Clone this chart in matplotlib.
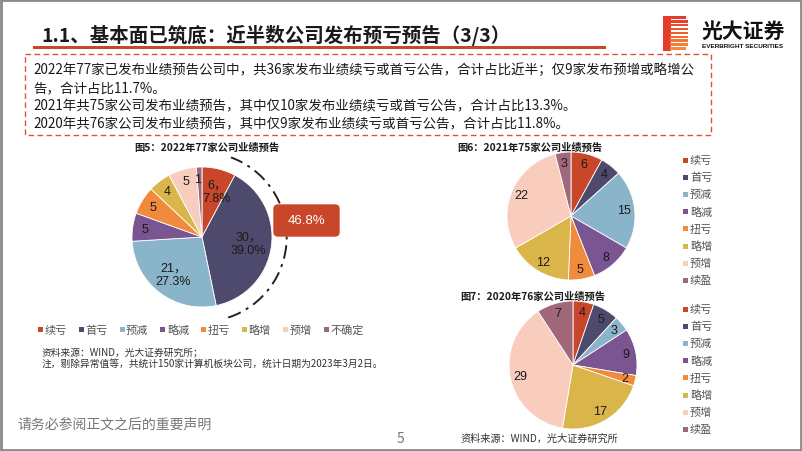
import numpy as np
import matplotlib
matplotlib.use("Agg")
import matplotlib.pyplot as plt
from matplotlib.patches import Rectangle, FancyBboxPatch, Arc

plt.rcParams['font.family'] = ['Noto Sans CJK SC', 'DejaVu Sans']

W, H = 802, 452

# ---------------- data ----------------
cats_2022 = ["续亏", "首亏", "预减", "略减", "扭亏", "略增", "预增", "不确定"]
vals_2022 = [6, 30, 21, 5, 5, 4, 5, 1]
cats_2021 = ["续亏", "首亏", "预减", "略减", "扭亏", "略增", "预增", "续盈"]
vals_2021 = [6, 4, 15, 8, 5, 12, 22, 3]
cats_2020 = ["续亏", "首亏", "预减", "略减", "扭亏", "略增", "预增", "续盈"]
vals_2020 = [4, 5, 3, 9, 2, 17, 29, 7]

colors = ["#C8462A", "#4E4A6E", "#8AB4C9", "#7A5591",
          "#F08A3C", "#D9B54A", "#F8CDBE", "#A0687A"]

title = "1.1、基本面已筑底：近半数公司发布预亏预告（3/3）"
summary_lines = [
    "2022年77家已发布业绩预告公司中，共36家发布业绩续亏或首亏公告，合计占比近半；仅9家发布预增或略增公",
    "告，合计占比11.7%。",
    "2021年共75家公司发布业绩预告，其中仅10家发布业绩续亏或首亏公告，合计占比13.3%。",
    "2020年共76家公司发布业绩预告，其中仅9家发布业绩续亏或首亏公告，合计占比11.8%。",
]
fig5_title = "图5：2022年77家公司业绩预告"
fig6_title = "图6：2021年75家公司业绩预告"
fig7_title = "图7：2020年76家公司业绩预告"
source1 = "资料来源：WIND，光大证券研究所；"
note1 = "注，剔除异常值等，共统计150家计算机板块公司，统计日期为2023年3月2日。"
source3 = "资料来源：WIND，光大证券研究所"
footer = "请务必参阅正文之后的重要声明"
page_no = "5"

fig = plt.figure(figsize=(W / 100, H / 100), dpi=100)
fig.patch.set_facecolor("white")

num_font = ['Liberation Sans', 'Noto Sans CJK SC']


def pie_axes(cx, cy, r, ext):
    side = 2 * r * ext
    ax = fig.add_axes([(cx - r * ext) / W, 1 - (cy + r * ext) / H, side / W, side / H])
    return ax


def draw_pie(ax, vals, ext, labels, dists, fs, r_px, nudges=None):
    nudges = nudges or {}
    wedges, _ = ax.pie(vals, colors=colors, startangle=90, counterclock=False,
                       radius=1, wedgeprops=dict(edgecolor="white", linewidth=0.6))
    ax.set_xlim(-ext, ext)
    ax.set_ylim(-ext, ext)
    ax.set_aspect("equal")
    ax.axis("off")
    for i, (w, lab, d) in enumerate(zip(wedges, labels, dists)):
        a = np.deg2rad((w.theta1 + w.theta2) / 2)
        dx, dy = nudges.get(i, (0, 0))
        ax.text(d * np.cos(a) + dx / r_px, d * np.sin(a) + dy / r_px, lab,
                ha="center", va="center", fontsize=fs, color="#1a1a1a",
                family=num_font, linespacing=1.15)
    return wedges


# ---------------- pie 1 (2022) ----------------
ext1 = 1.35
ax1 = pie_axes(202, 238, 70, ext1)
tot1 = sum(vals_2022)
labs1 = []
d1 = []
for i, v in enumerate(vals_2022):
    if i < 3:
        labs1.append(f"{v}，\n{v / tot1 * 100:.1f}%")
        d1.append(0.67)
    else:
        labs1.append(f"{v}")
        d1.append(0.83)
draw_pie(ax1, vals_2022, ext1, labs1, d1, 9, 70, nudges={0: (3.5, 0), 7: (-2.5, 0)})
arc = Arc((0, 0), 2 * 1.21, 2 * 1.21, theta1=-72, theta2=70, color="#222222",
          lw=1.4, ls=(0, (7, 3, 1.5, 3)))
ax1.add_patch(arc)

# ---------------- pie 2 (2021) ----------------
ext2 = 1.05
ax2 = pie_axes(571, 217, 64, ext2)
draw_pie(ax2, vals_2021, ext2, [str(v) for v in vals_2021], [0.84] * 8, 9, 64)

# ---------------- pie 3 (2020) ----------------
ax3 = pie_axes(573, 366, 64, ext2)
draw_pie(ax3, vals_2020, ext2, [str(v) for v in vals_2020], [0.84] * 8, 9, 64)

# ---------------- overlay ----------------
ov = fig.add_axes([0, 0, 1, 1])
ov.set_xlim(0, W)
ov.set_ylim(H, 0)
ov.axis("off")
ov.patch.set_alpha(0)

# page frame
ov.add_patch(Rectangle((1, 1), W - 2, H - 2, fill=False, ec="#8a8a8a", lw=2))

# title
ov.text(41, 35, title, fontsize=14, fontweight="bold", color="#1a1a1a",
        ha="left", va="center")
ov.add_patch(Rectangle((33, 46.5), 573, 3, color="#C8462A", lw=0))

# logo
ov.add_patch(Rectangle((663, 17), 8, 35, color="#E53B2C", lw=0))
stripe_cols = ["#E53B2C", "#E6432C", "#E84D2E", "#EA5730", "#EC6132",
               "#EE6B34", "#F07536", "#F17F38", "#F28A3A"]
for i, c in enumerate(stripe_cols):
    ov.add_patch(Rectangle((670, 17 + i * 3.9), 18 if i not in (0, 8) else 16, 2.6,
                           color=c, lw=0))
ov.text(702, 31, "光大证券", fontsize=15, fontweight="bold", color="#111111",
        ha="left", va="center")
ov.text(702, 46, "EVERBRIGHT SECURITIES", fontsize=4.6, fontweight="bold",
        color="#111111", ha="left", va="center", family=num_font)

# dashed summary box
ov.add_patch(Rectangle((25, 55), 686, 81, fill=False, ec="#D9533A", lw=1,
                       ls=(0, (4, 2.5))))
for i, line in enumerate(summary_lines):
    ov.text(33, 70 + i * 18, line, fontsize=9.7, color="#1a1a1a",
            ha="left", va="center")

# chart titles
ov.text(134, 148, fig5_title, fontsize=7.4, fontweight="bold", color="#1a1a1a",
        ha="left", va="center")
ov.text(457, 148, fig6_title, fontsize=7.4, fontweight="bold", color="#1a1a1a",
        ha="left", va="center")
ov.text(460, 297, fig7_title, fontsize=7.4, fontweight="bold", color="#1a1a1a",
        ha="left", va="center")

# 46.8% box
share = (vals_2022[0] + vals_2022[1]) / tot1 * 100
ov.add_patch(FancyBboxPatch((274, 206), 65, 31, boxstyle="round,pad=0,rounding_size=4",
                            fc="#C8462A", ec="#C8462A", lw=1))
ov.text(306.5, 221.5, f"{share:.1f}%", fontsize=9.5, color="white",
        ha="center", va="center", family=num_font)

# legend pie 1 (horizontal)
for i, (lab, c) in enumerate(zip(cats_2022, colors)):
    x = 38 + i * 40.8
    ov.add_patch(Rectangle((x, 328), 5, 5, color=c, lw=0))
    ov.text(x + 6.5, 330.5, lab, fontsize=8, color="#555555", ha="left", va="center")

ov.text(42, 352, source1, fontsize=7, color="#333333", ha="left", va="center")
ov.text(42, 364, note1, fontsize=7, color="#333333", ha="left", va="center")

# legend pie 2 and 3 (vertical)
for y0, cats in ((161, cats_2021), (310, cats_2020)):
    for i, (lab, c) in enumerate(zip(cats, colors)):
        y = y0 + i * 17.2
        ov.add_patch(Rectangle((683, y - 2.5), 5, 5, color=c, lw=0))
        ov.text(690, y, lab, fontsize=8, color="#555555", ha="left", va="center")

ov.text(460, 439, source3, fontsize=7.3, color="#333333", ha="left", va="center")

# footer
ov.text(17, 425, footer, fontsize=10, color="#777777", ha="left", va="center")
ov.text(400, 439, page_no, fontsize=10, color="#777777", ha="center", va="center")

fig.savefig("out.png", dpi=100, facecolor="white")
